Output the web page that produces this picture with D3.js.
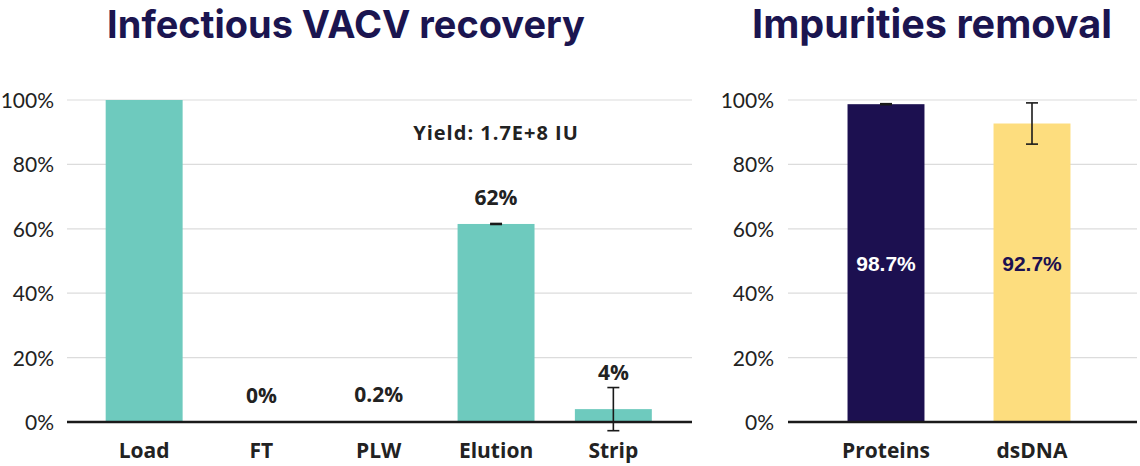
<!DOCTYPE html>
<html><head><meta charset="utf-8">
<script src="https://cdn.jsdelivr.net/npm/d3@7"></script>
<style>
html,body{margin:0;padding:0;background:#fff;}
svg{display:block;}
</style></head>
<body>
<svg id="chart" width="1140" height="466"></svg>
<script>
// ---- data ----
const recoveryCategories = ["Load", "FT", "PLW", "Elution", "Strip"];
const recoveryValues = [100, 0, 0.2, 61.5, 4.0];
const recoveryErrors = [0, 0, 0, 0.3, 6.7];
const recoveryLabels = ["", "0%", "0.2%", "62%", "4%"];
const yieldText = "Yield: 1.7E+8 IU";

const impurityCategories = ["Proteins", "dsDNA"];
const impurityValues = [98.7, 92.7];
const impurityErrors = [0.2, 6.4];
const impurityLabels = ["98.7%", "92.7%"];

const yTicks = [0, 20, 40, 60, 80, 100];
const titles = ["Infectious VACV recovery", "Impurities removal"];

// ---- styles ----
const TEAL = "#6ecabe", NAVY = "#1c1050", YELLOW = "#fddd7e", TITLE = "#1b1550", TEXT = "#222";
const LABEL_FONT = "'Open Sans', Lato, sans-serif";
const svg = d3.select("#chart");
const y = d3.scaleLinear().domain([0, 100]).range([422, 100]);

function panel(opts) {
  const g = svg.append("g");
  const x = d3.scaleBand().domain(opts.cats).range(opts.band).paddingInner(opts.pad).paddingOuter(opts.pad / 2);
  // grid
  g.append("g").selectAll("line").data(yTicks.filter(d => d > 0)).join("line")
    .attr("x1", opts.plot[0]).attr("x2", opts.plot[1])
    .attr("y1", d => y(d)).attr("y2", d => y(d))
    .attr("stroke", "#dcdcdc").attr("stroke-width", 1.2);
  // y axis labels
  const ax = g.append("g").attr("transform", `translate(${opts.tickX},0)`)
    .call(d3.axisLeft(y).tickValues(yTicks).tickSize(0).tickPadding(0).tickFormat(d => d + "%"));
  ax.select(".domain").remove();
  ax.selectAll("text").attr("font-family", "Lato, 'Open Sans', sans-serif").attr("font-size", 21)
    .attr("fill", TEXT).attr("dy", "0.36em");
  // bars
  g.append("g").selectAll("rect").data(opts.cats).join("rect")
    .attr("x", d => x(d)).attr("width", x.bandwidth())
    .attr("y", (d, i) => y(opts.vals[i]))
    .attr("height", (d, i) => y(0) - y(opts.vals[i]))
    .attr("fill", (d, i) => opts.colors[i]);
  // error bars
  const eg = g.append("g").attr("stroke", "#1a1a1a").attr("stroke-width", 1.6);
  opts.cats.forEach((c, i) => {
    const e = opts.errs[i];
    if (!e) return;
    const cx = x(c) + x.bandwidth() / 2;
    const y1 = y(opts.vals[i] + e), y2 = y(opts.vals[i] - e);
    const cap = 6;
    if (y2 - y1 < 3) {
      eg.append("line").attr("x1", cx - cap).attr("x2", cx + cap)
        .attr("y1", (y1 + y2) / 2).attr("y2", (y1 + y2) / 2).attr("stroke-width", 2.6);
    } else {
      eg.append("line").attr("x1", cx).attr("x2", cx).attr("y1", y1).attr("y2", y2);
      eg.append("line").attr("x1", cx - cap).attr("x2", cx + cap).attr("y1", y1).attr("y2", y1);
      eg.append("line").attr("x1", cx - cap).attr("x2", cx + cap).attr("y1", y2).attr("y2", y2);
    }
  });
  // baseline
  g.append("line").attr("x1", opts.plot[0]).attr("x2", opts.plot[1])
    .attr("y1", y(0)).attr("y2", y(0)).attr("stroke", "#1a1a1a").attr("stroke-width", 2.4);
  // x labels
  g.append("g").selectAll("text").data(opts.cats).join("text")
    .attr("x", d => x(d) + x.bandwidth() / 2).attr("y", 450).attr("dy", "0.36em")
    .attr("text-anchor", "middle")
    .attr("font-family", LABEL_FONT).attr("font-weight", 700).attr("font-size", 21)
    .attr("fill", TEXT).text(d => d);
  // title
  const t = svg.append("text").attr("x", opts.titleX).attr("y", 24).attr("dy", "0.36em")
    .attr("text-anchor", "middle").attr("font-family", "Inter, 'DejaVu Sans', sans-serif")
    .attr("font-weight", 700).attr("font-size", 36).attr("fill", TITLE).text(opts.title);
  const w = t.node().getComputedTextLength();
  t.attr("font-size", 36 * opts.titleW / w);
  return {g, x};
}

// left panel
const L = panel({cats: recoveryCategories, vals: recoveryValues, errs: recoveryErrors,
  colors: recoveryCategories.map(() => TEAL), band: [85.5, 672], pad: 0.344,
  plot: [67, 692], tickX: 54, title: titles[0], titleX: 346, titleW: 478});
L.g.append("g").selectAll("text").data(recoveryCategories).join("text")
  .attr("x", d => L.x(d) + L.x.bandwidth() / 2)
  .attr("y", (d, i) => {
    const v = recoveryValues[i], e = recoveryErrors[i];
    return Math.min(y(v) - 27, y(v + e) - 15);
  })
  .attr("dy", "0.36em").attr("text-anchor", "middle")
  .attr("font-family", LABEL_FONT).attr("font-weight", 700).attr("font-size", 21)
  .attr("fill", TEXT).text((d, i) => recoveryLabels[i]);
L.g.append("text").attr("x", L.x("Elution") + L.x.bandwidth() / 2).attr("y", y(89.7)).attr("dy", "0.36em")
  .attr("text-anchor", "middle").attr("font-family", LABEL_FONT)
  .attr("font-weight", 700).attr("font-size", 20).attr("letter-spacing", 1).attr("fill", TEXT).text(yieldText);

// right panel
const R = panel({cats: impurityCategories, vals: impurityValues, errs: impurityErrors,
  colors: [NAVY, YELLOW], band: [813, 1105], pad: 0.473,
  plot: [788, 1137], tickX: 774, title: titles[1], titleX: 932, titleW: 360});
R.g.append("g").selectAll("text").data(impurityCategories).join("text")
  .attr("x", d => R.x(d) + R.x.bandwidth() / 2)
  .attr("y", y(impurityValues[0] / 2)).attr("dy", "0.36em").attr("text-anchor", "middle")
  .attr("font-family", "'Liberation Sans', Arial, sans-serif").attr("font-weight", 700).attr("font-size", 21)
  .attr("fill", (d, i) => i === 0 ? "#ffffff" : NAVY).text((d, i) => impurityLabels[i]);
</script>
</body></html>
